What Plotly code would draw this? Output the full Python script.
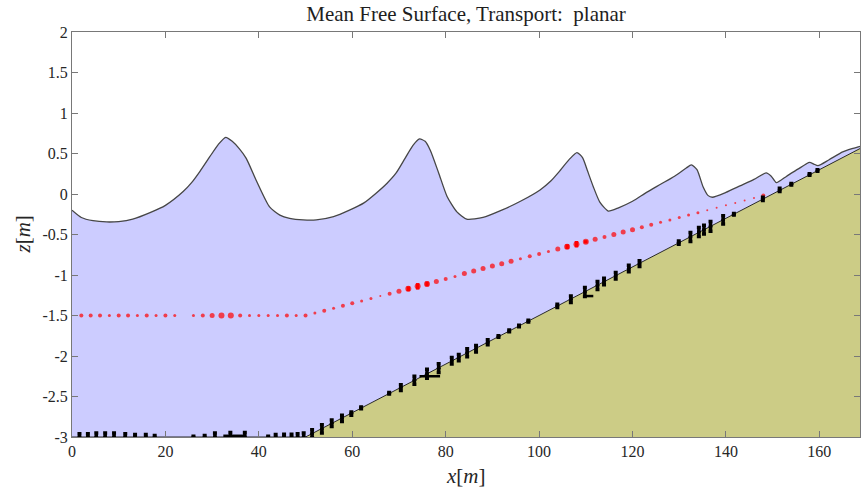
import plotly.graph_objects as go

# ---------------- data ----------------
# mean free surface
surf_x = [0, 2, 4.5, 7.4, 10, 13, 16.7, 20, 23.8, 25.6, 27.4, 29.5, 31.3, 32.9, 34.3, 35.8, 37.3,
          39.5, 42.3, 44.5, 46.6, 49.5, 52.3, 56, 59.4, 62.5, 65.1, 67.4, 69.4, 71.3, 73, 74.4, 75.6,
          76.7, 78.5, 80.3, 82.4, 84.5, 88, 92, 96, 100.2, 102.5, 104.5, 106.5, 108.1, 109.3, 110.4,
          111.6, 113, 114.8, 117, 120, 123, 126, 129, 131.5, 132.6, 133.8, 135.1, 136.2, 137.1, 140,
          143, 146, 148.6, 149.7, 150.8, 153, 155.5, 157.9, 158.8, 159.7, 162, 165, 167, 168.8, 170]
surf_z = [-0.20, -0.29, -0.33, -0.345, -0.34, -0.31, -0.23, -0.14, 0.03, 0.14, 0.28, 0.46, 0.61, 0.70,
          0.65, 0.56, 0.44, 0.16, -0.16, -0.26, -0.30, -0.32, -0.32, -0.28, -0.20, -0.11, 0.01, 0.13,
          0.26, 0.44, 0.60, 0.68, 0.65, 0.54, 0.26, -0.03, -0.22, -0.31, -0.29, -0.20, -0.09, 0.05,
          0.16, 0.29, 0.43, 0.51, 0.45, 0.28, 0.09, -0.10, -0.21, -0.17, -0.09, 0.02, 0.12, 0.22,
          0.32, 0.36, 0.30, 0.09, -0.02, -0.04, 0.02, 0.10, 0.18, 0.26, 0.22, 0.14, 0.22, 0.31, 0.39,
          0.37, 0.35, 0.42, 0.52, 0.56, 0.59, 0.61]

# bathymetry
bed_x = [0, 50, 170]
bed_z = [-3.0, -3.0, 0.6]

# mean particle positions (red)
red_x = [2, 4, 6, 8, 10, 12, 14, 16, 18, 20, 22,
         26, 28, 30, 32, 34, 36, 38, 40, 42, 44, 46, 48, 50,
         52, 54, 56, 58, 60, 62, 64, 66, 68, 70,
         72, 74, 76, 78, 80, 82, 84, 86, 88, 90, 92, 94, 96, 98, 100, 102, 104, 106, 108, 110,
         112, 114, 116, 118, 120, 122, 124, 126, 128, 130, 132, 134, 136, 138, 140, 142, 144, 146, 148]
red_z = [-1.50, -1.50, -1.50, -1.50, -1.50, -1.50, -1.50, -1.50, -1.50, -1.50, -1.50,
         -1.50, -1.50, -1.50, -1.50, -1.50, -1.50, -1.50, -1.50, -1.50, -1.50, -1.50, -1.50, -1.50,
         -1.47, -1.44, -1.41, -1.38, -1.35, -1.32, -1.29, -1.26, -1.23, -1.20,
         -1.17, -1.14, -1.11, -1.08, -1.05, -1.02, -0.98, -0.95, -0.92, -0.89, -0.86, -0.83, -0.80,
         -0.77, -0.74, -0.71, -0.68, -0.65, -0.62, -0.59,
         -0.56, -0.53, -0.50, -0.47, -0.44, -0.41, -0.38, -0.35, -0.32, -0.29, -0.26, -0.23, -0.20,
         -0.17, -0.14, -0.11, -0.08, -0.05, -0.02]
red_size = [4, 4, 4, 3, 4, 4, 3, 4, 3, 4, 3,
            3, 4, 5, 6, 6, 4, 3, 3, 3, 3, 4, 3, 4,
            3, 4, 3, 4, 4, 3, 3, 2, 4, 5,
            6, 6, 6, 5, 4, 3, 5, 5, 5, 5, 5, 5, 3, 4, 4, 3, 5, 6, 6, 6,
            5, 4, 5, 5, 5, 4, 4, 3, 3, 3, 3, 3, 2, 2, 2, 2, 2, 2, 4]
red_spread = [0] * 34 + [0.03, 0.04, 0.03] + [0] * 14 + [0.03, 0.04, 0.02] + [0] * 19

# sediment particles on the bed (black): position and vertical spread (m)
blk_x = [1.6, 3.4, 5.2, 7.1, 9.0, 11.4, 13.5, 15.8, 17.7, 26.0, 28.4, 30.6, 33.9, 37.0,
         42.0, 43.6, 45.4, 47.0, 48.3, 49.6, 51.4, 53.5, 55.6, 57.8, 59.8, 61.9, 67.9, 70.4,
         73.3, 76.0, 78.5, 81.3, 82.8, 84.6, 86.5, 89.0, 91.3, 93.6, 95.7, 97.7, 103.9, 106.8,
         109.8, 112.5, 113.9, 116.4, 119.2, 121.5, 129.9, 132.4, 134.2, 135.3, 136.7, 139.4,
         141.7, 147.9, 151.5, 154.0, 157.9, 159.6]
blk_z = [-3.0, -3.0, -3.0, -3.0, -3.0, -3.0, -3.0, -3.0, -3.0, -3.0, -3.0, -3.0, -3.0, -3.0,
         -3.0, -3.0, -3.0, -3.0, -3.0, -3.0, -2.96, -2.90, -2.83, -2.77, -2.71, -2.64, -2.46, -2.39,
         -2.30, -2.22, -2.15, -2.06, -2.02, -1.96, -1.91, -1.83, -1.76, -1.69, -1.63, -1.57, -1.38,
         -1.30, -1.21, -1.13, -1.08, -1.01, -0.92, -0.86, -0.60, -0.53, -0.47, -0.44, -0.40, -0.32,
         -0.25, -0.06, 0.05, 0.12, 0.24, 0.29]
blk_spread = [0.04, 0.04, 0.05, 0.05, 0.05, 0.04, 0.03, 0.03, 0.02, 0.01, 0.02, 0.05, 0.055, 0.055,
              0.01, 0.03, 0.035, 0.035, 0.04, 0.05, 0.05, 0.05, 0.04, 0.04, 0.02, 0.01, 0.01, 0.035,
              0.05, 0.055, 0.055, 0.04, 0.04, 0.05, 0.04, 0.03, 0.01, 0.01, 0.01, 0.01, 0.02, 0.04,
              0.055, 0.05, 0.04, 0.04, 0.04, 0.035, 0.02, 0.055, 0.055, 0.055, 0.06, 0.05, 0.01,
              0.02, 0.02, 0.01, 0.01, 0.01]

# horizontal spreads of bed particles
bar_x0 = [32.4, 74.4, 109.4]
bar_x1 = [36.9, 78.8, 111.6]
bar_z = [-2.985, -2.25, -1.26]

# ---------------- figure ----------------
WATER = "rgb(204,204,255)"
SAND = "rgb(204,204,134)"

fig = go.Figure()

# invisible bed line as fill base for the water
fig.add_trace(go.Scatter(
    x=bed_x, y=bed_z, mode="lines", line=dict(width=0, color=WATER),
    hoverinfo="skip", showlegend=False))
# water body between bed and smoothed free surface
fig.add_trace(go.Scatter(
    x=surf_x, y=surf_z, mode="lines", fill="tonexty", fillcolor=WATER,
    line=dict(width=0, shape="spline", smoothing=0.6, color=WATER),
    hoverinfo="skip", showlegend=False))

# bed
fig.add_trace(go.Scatter(
    x=bed_x + [bed_x[-1], bed_x[0]], y=bed_z + [-3.5, -3.5],
    mode="lines", fill="toself", fillcolor=SAND,
    line=dict(width=0), hoverinfo="skip", showlegend=False))
fig.add_trace(go.Scatter(
    x=bed_x, y=bed_z, mode="lines",
    line=dict(color="rgb(40,40,40)", width=1), showlegend=False))

# free surface line
fig.add_trace(go.Scatter(
    x=surf_x, y=surf_z, mode="lines",
    line=dict(color="rgb(70,70,70)", width=1.3, shape="spline", smoothing=0.6),
    showlegend=False))

# red particles
fig.add_trace(go.Scatter(
    x=red_x, y=red_z, mode="markers",
    marker=dict(color="red", size=red_size, line=dict(width=0)),
    error_y=dict(type="data", array=red_spread, color="red", thickness=3.5, width=0),
    showlegend=False))

# black particle horizontal spreads
bx, bz = [], []
for a, b, z in zip(bar_x0, bar_x1, bar_z):
    bx += [a, b, None]
    bz += [z, z, None]
fig.add_trace(go.Scatter(
    x=bx, y=bz, mode="lines",
    line=dict(color="black", width=2.5), showlegend=False))

# black particles
fig.add_trace(go.Scatter(
    x=blk_x, y=blk_z, mode="markers",
    marker=dict(symbol="circle", size=4, color="black", line=dict(width=0)),
    error_y=dict(type="data", array=blk_spread, color="black", thickness=3.5, width=2),
    showlegend=False))

FONT = "Liberation Serif"
AX = "rgb(120,120,120)"

fig.update_layout(
    width=862, height=488, autosize=False,
    margin=dict(l=72, r=2, t=32, b=51),
    paper_bgcolor="white", plot_bgcolor="white",
    font=dict(family=FONT, size=16, color="rgb(38,38,38)"),
    title=dict(text="Mean Free Surface, Transport:  planar",
               x=0.5, xref="paper", xanchor="center",
               y=1 - 14 / 488, yref="container", yanchor="middle",
               font=dict(family=FONT, size=21, color="rgb(30,30,30)")),
    xaxis=dict(range=[0, 168.7], tickvals=[0, 20, 40, 60, 80, 100, 120, 140, 160],
               ticks="inside", ticklen=6, tickcolor=AX, tickwidth=1,
               showline=True, linecolor=AX, linewidth=1, mirror="ticks",
               showgrid=False, zeroline=False,
               tickfont=dict(family=FONT, size=16, color="rgb(38,38,38)")),
    yaxis=dict(range=[-3, 2], tickvals=[-3, -2.5, -2, -1.5, -1, -0.5, 0, 0.5, 1, 1.5, 2],
               ticktext=["-3", "-2.5", "-2", "-1.5", "-1", "-0.5", "0", "0.5", "1", "1.5", "2"],
               ticks="inside", ticklen=6, tickcolor=AX, tickwidth=1,
               showline=True, linecolor=AX, linewidth=1, mirror="ticks",
               showgrid=False, zeroline=False,
               tickfont=dict(family=FONT, size=16, color="rgb(38,38,38)")),
    annotations=[
        dict(text="<i>x</i>[<i>m</i>]", x=0.5, xref="paper",
             y=-(476 - 437) / (437 - 32), yref="paper",
             showarrow=False, font=dict(family=FONT, size=21, color="rgb(38,38,38)"),
             xanchor="center", yanchor="middle"),
        dict(text="<i>z</i>[<i>m</i>]", x=-(72 - 22) / (860 - 72), xref="paper", y=0.5, yref="paper",
             showarrow=False, textangle=-90,
             font=dict(family=FONT, size=21, color="rgb(38,38,38)"),
             xanchor="center", yanchor="middle"),
    ],
)

fig.write_html("out.html")
